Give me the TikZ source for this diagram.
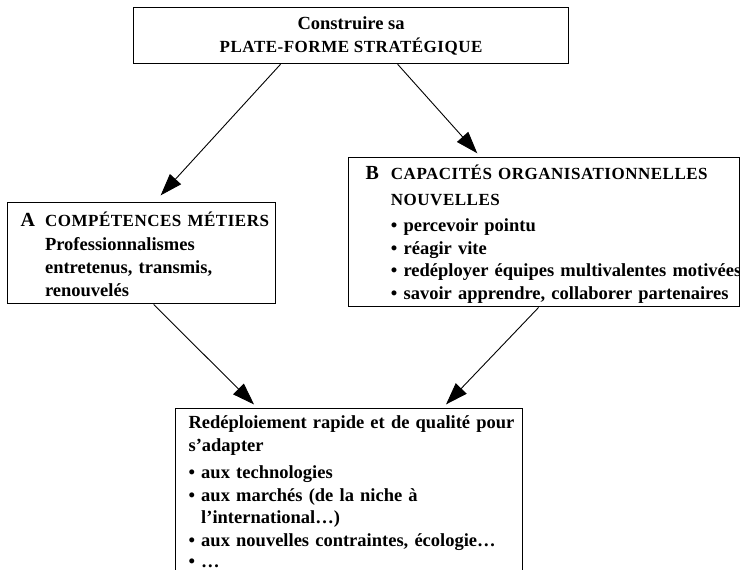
\documentclass[tikz,border=0pt]{standalone}
\usepackage{fontspec}
\setmainfont{Liberation Serif}
\newfontfamily\capsfont[LetterSpace=3]{Liberation Serif}
\usetikzlibrary{arrows.meta}
\setlength{\parindent}{0pt}

\newcommand{\hd}[1]{{\capsfont\fontsize{17}{22.5}\selectfont #1}}
\newcommand{\lettre}[1]{{\fontsize{20}{22.5}\selectfont #1}}

\begin{document}
\begin{tikzpicture}[x=1pt, y=-1pt,
    box/.style={draw, line width=1.2pt, anchor=north west, align=left,
                font=\fontsize{18.5}{22.5}\selectfont\bfseries},
    arr/.style={-{Triangle[length=22pt,width=15pt]}, line width=0.9pt, shorten >=5pt}]

    \useasboundingbox (0,0) rectangle (740,570);

    \node[box, align=center, inner ysep=2pt, minimum width=435pt, minimum height=56pt] (plat) at (133,7)
        {\begin{tabular}{@{}c@{}}\rule{0pt}{18pt}Construire sa\\ \hd{PLATE-FORME STRATÉGIQUE}\end{tabular}};

    \node[box, text width=242pt, inner xsep=13pt, inner ysep=1pt, minimum height=101pt] (compA) at (7,202)
        {\begin{tabular}{@{}l@{\hspace{10pt}}l@{}}
            \lettre{A}\rule{0pt}{23pt} & \hd{COMPÉTENCES MÉTIERS}\\[1pt]
              & Professionnalismes\\[0.5pt]
              & entretenus, transmis,\\[0.5pt]
              & renouvelés
         \end{tabular}};

    \node[box, text width=357pt, inner xsep=17pt, inner ysep=1pt, minimum height=149pt] (capB) at (348,157)
        {\begin{tabular}{@{}l@{\hspace{12pt}}l@{}}
            \lettre{B}\rule{0pt}{21pt} & \hd{CAPACITÉS ORGANISATIONNELLES}\\[3.5pt]
              & \hd{NOUVELLES}\\[3.5pt]
              & \textbullet\ percevoir pointu\\
              & \textbullet\ réagir vite\\
              & \textbullet\ redéployer équipes multivalentes motivées\\
              & \textbullet\ savoir apprendre, collaborer partenaires
         \end{tabular}};

    \node[box, text width=321pt, inner xsep=13pt, inner ysep=4.25pt] (redep) at (175,408)
        {\begin{tabular}{@{}l@{}}
            Redéploiement rapide et de qualité pour\\
            s’adapter\\[5pt]
            \textbullet\ aux technologies\\
            \textbullet\ aux marchés (de la niche à\\
            \phantom{\textbullet\ }l’international…)\\
            \textbullet\ aux nouvelles contraintes, écologie…\\[-1.5pt]
            \textbullet\ …
         \end{tabular}};

    \path[arr]
        ([xshift=-70.5pt]plat.south) edge[shorten >=9pt] ([xshift=13pt]compA.north)
        ([xshift=46.5pt]plat.south)  edge ([xshift=-63.5pt]capB.north)
        ([xshift=12pt]compA.south)   edge ([xshift=-91.5pt]redep.north)
        ([xshift=-5.5pt]capB.south)  edge ([xshift=93.5pt]redep.north);
\end{tikzpicture}
\end{document}
